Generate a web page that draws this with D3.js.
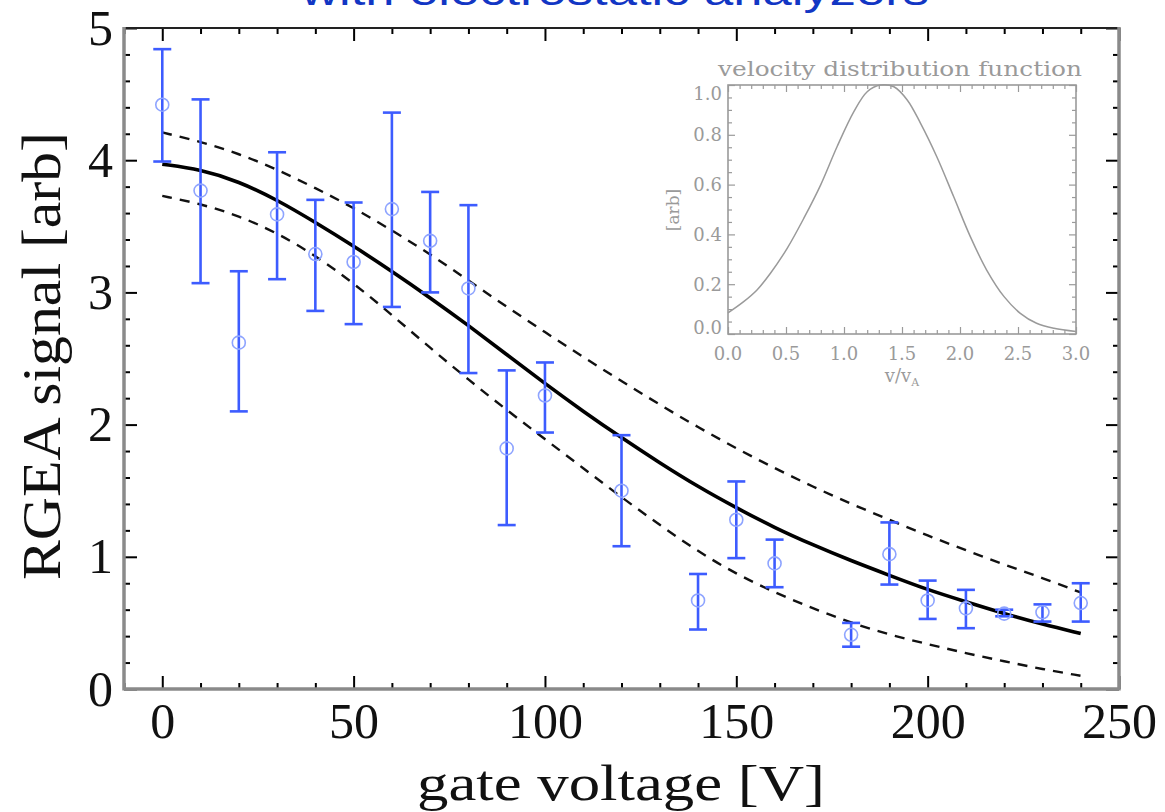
<!DOCTYPE html>
<html>
<head>
<meta charset="utf-8">
<script src="https://cdn.jsdelivr.net/npm/d3@7"></script>
<style>
  html, body { margin: 0; padding: 0; background: #fff; }
  svg { display: block; }
</style>
</head>
<body>
<svg id="chart" width="1165" height="812"></svg>
<script>
// ---------------- data ----------------
const titleText = "with electrostatic analyzers";
const xLabel = "gate voltage [V]";
const yLabel = "RGEA signal [arb]";

const xMajorTicks = [0, 50, 100, 150, 200, 250];
const yMajorTicks = [0, 1, 2, 3, 4, 5];

// measured points
const voltages = [0, 10, 20, 30, 40, 50, 60, 70, 80, 90, 100, 120, 140, 150, 160, 180, 190, 200, 210, 220, 230, 240];
const signal   = [4.42, 3.77, 2.62, 3.59, 3.29, 3.23, 3.63, 3.39, 3.03, 1.82, 2.22, 1.50, 0.67, 1.28, 0.95, 0.41, 1.02, 0.67, 0.61, 0.57, 0.58, 0.65];
const errHigh  = [4.84, 4.46, 3.16, 4.06, 3.70, 3.68, 4.36, 3.76, 3.66, 2.41, 2.47, 1.92, 0.87, 1.57, 1.13, 0.50, 1.26, 0.82, 0.75, 0.60, 0.64, 0.80];
const errLow   = [3.99, 3.07, 2.10, 3.10, 2.86, 2.76, 2.89, 3.00, 2.39, 1.24, 1.94, 1.08, 0.45, 0.99, 0.77, 0.32, 0.79, 0.53, 0.46, 0.55, 0.51, 0.51];

// model fit and its bounds
const fitVoltages = [0, 10, 20, 30, 40, 50, 60, 70, 80, 90, 100, 110, 120, 130, 140, 150, 160, 170, 180, 190, 200, 210, 220, 230, 240];
const fitCurve   = [3.97, 3.93, 3.84, 3.70, 3.53, 3.35, 3.16, 2.96, 2.75, 2.53, 2.31, 2.10, 1.90, 1.71, 1.53, 1.37, 1.22, 1.09, 0.97, 0.86, 0.75, 0.66, 0.57, 0.49, 0.42];
const upperBand  = [4.21, 4.14, 4.05, 3.93, 3.79, 3.64, 3.47, 3.29, 3.09, 2.89, 2.70, 2.51, 2.33, 2.15, 1.98, 1.82, 1.67, 1.53, 1.40, 1.28, 1.16, 1.05, 0.94, 0.84, 0.73];
const lowerBand  = [3.73, 3.67, 3.58, 3.45, 3.28, 3.07, 2.83, 2.58, 2.34, 2.11, 1.89, 1.67, 1.45, 1.24, 1.04, 0.87, 0.73, 0.61, 0.50, 0.41, 0.34, 0.27, 0.21, 0.15, 0.10];

// inset: velocity distribution function
const insetTitle = "velocity distribution function";
const insetYLabel = "[arb]";
const insetXTicks = [0.0, 0.5, 1.0, 1.5, 2.0, 2.5, 3.0];
const insetYTicks = [0.0, 0.2, 0.4, 0.6, 0.8, 1.0];
const vdfV   = [0.00, 0.135, 0.25, 0.366, 0.51, 0.654, 0.798, 0.94, 1.085, 1.20, 1.314, 1.43, 1.545, 1.66, 1.80, 1.945, 2.09, 2.23, 2.38, 2.52, 2.66, 2.81, 3.00];
const vdfVal = [0.085, 0.13, 0.177, 0.244, 0.344, 0.465, 0.598, 0.752, 0.893, 0.973, 1.00, 0.993, 0.94, 0.846, 0.712, 0.552, 0.39, 0.257, 0.15, 0.083, 0.043, 0.023, 0.01];

// ---------------- drawing ----------------
const svg = d3.select("#chart");
const serif = "'Liberation Serif', 'Times New Roman', serif";
const L = 124, R = 1119, T = 28, B = 689;

const x = d3.scaleLinear().domain([-10, 250]).range([L, R]);
const y = d3.scaleLinear().domain([0, 5]).range([B, T]);

// title (cut off by the top edge, as in the original)
svg.append("text")
  .attr("x", 615).attr("y", 5)
  .attr("text-anchor", "middle")
  .attr("font-family", "'Liberation Sans', Arial, sans-serif")
  .attr("font-size", 40)
  .attr("fill", "#1236c4")
  .attr("textLength", 628).attr("lengthAdjust", "spacingAndGlyphs")
  .text(titleText);

// ---- axes ----
const xMinor = d3.range(-10, 251, 10).filter(v => !xMajorTicks.includes(v));
const yMinor = d3.range(0, 5.001, 0.2).map(v => +v.toFixed(1)).filter(v => !yMajorTicks.includes(v));

function styleAxis(g) {
  g.select(".domain").remove();
  g.selectAll(".tick line").attr("stroke", "#000").attr("stroke-width", 2);
}

// bottom
svg.append("g").attr("transform", `translate(0,${B})`)
  .call(d3.axisBottom(x).tickValues(xMajorTicks).tickSize(-13).tickPadding(13).tickFormat(d3.format("d")))
  .call(styleAxis)
  .call(g => g.selectAll("text").attr("font-family", serif).attr("font-size", 50).attr("fill", "#111"));
svg.append("g").attr("transform", `translate(0,${B})`)
  .call(d3.axisBottom(x).tickValues(xMinor).tickSize(-6).tickFormat(""))
  .call(styleAxis);
// top
svg.append("g").attr("transform", `translate(0,${T})`)
  .call(d3.axisTop(x).tickValues(xMajorTicks).tickSize(-13).tickFormat(""))
  .call(styleAxis);
svg.append("g").attr("transform", `translate(0,${T})`)
  .call(d3.axisTop(x).tickValues(xMinor).tickSize(-6).tickFormat(""))
  .call(styleAxis);
// left
svg.append("g").attr("transform", `translate(${L},0)`)
  .call(d3.axisLeft(y).tickValues(yMajorTicks).tickSize(-13).tickPadding(11).tickFormat(d3.format("d")))
  .call(styleAxis)
  .call(g => g.selectAll("text").attr("font-family", serif).attr("font-size", 50).attr("fill", "#111"));
svg.append("g").attr("transform", `translate(${L},0)`)
  .call(d3.axisLeft(y).tickValues(yMinor).tickSize(-6).tickFormat(""))
  .call(styleAxis);
// right
svg.append("g").attr("transform", `translate(${R},0)`)
  .call(d3.axisRight(y).tickValues(yMajorTicks).tickSize(-13).tickFormat(""))
  .call(styleAxis);
svg.append("g").attr("transform", `translate(${R},0)`)
  .call(d3.axisRight(y).tickValues(yMinor).tickSize(-6).tickFormat(""))
  .call(styleAxis);

// frame
const frame = svg.append("g");
frame.append("line").attr("x1", L).attr("x2", R).attr("y1", T).attr("y2", T).attr("stroke", "#222").attr("stroke-width", 2);
frame.append("line").attr("x1", L).attr("x2", L).attr("y1", T - 1).attr("y2", B + 1.5).attr("stroke", "#8a8a8a").attr("stroke-width", 3.5);
frame.append("line").attr("x1", R).attr("x2", R).attr("y1", T - 1).attr("y2", B + 1.5).attr("stroke", "#8a8a8a").attr("stroke-width", 3.5);
frame.append("line").attr("x1", L).attr("x2", R).attr("y1", B).attr("y2", B).attr("stroke", "#8a8a8a").attr("stroke-width", 3.5);

// axis titles
svg.append("text")
  .attr("x", 621).attr("y", 800)
  .attr("text-anchor", "middle")
  .attr("font-family", serif).attr("font-size", 50).attr("fill", "#111")
  .attr("textLength", 408).attr("lengthAdjust", "spacingAndGlyphs")
  .text(xLabel);
svg.append("text")
  .attr("transform", "translate(60,356) rotate(-90)")
  .attr("text-anchor", "middle")
  .attr("font-family", serif).attr("font-size", 54).attr("fill", "#111")
  .attr("textLength", 448).attr("lengthAdjust", "spacingAndGlyphs")
  .text(yLabel);

// ---- fit curves ----
const fitLine = (vals) => d3.line()
  .x((d, i) => x(fitVoltages[i]))
  .y(d => y(d))
  .curve(d3.curveBasis)(vals);

svg.append("path").attr("d", fitLine(upperBand))
  .attr("fill", "none").attr("stroke", "#111").attr("stroke-width", 2.4).attr("stroke-dasharray", "10,8");
svg.append("path").attr("d", fitLine(lowerBand))
  .attr("fill", "none").attr("stroke", "#111").attr("stroke-width", 2.4).attr("stroke-dasharray", "10,8");
svg.append("path").attr("d", fitLine(fitCurve))
  .attr("fill", "none").attr("stroke", "#000").attr("stroke-width", 3.6);

// ---- error bars & points ----
const pts = voltages.map((v, i) => ({ v, s: signal[i], hi: errHigh[i], lo: errLow[i] }));
const eb = svg.append("g").attr("stroke", "#3d5cff").attr("stroke-width", 2.6).attr("fill", "none");
eb.selectAll("line.stem").data(pts).join("line").attr("class", "stem")
  .attr("x1", d => x(d.v)).attr("x2", d => x(d.v))
  .attr("y1", d => y(d.hi)).attr("y2", d => y(d.lo));
eb.selectAll("line.capHi").data(pts).join("line").attr("class", "capHi")
  .attr("x1", d => x(d.v) - 9).attr("x2", d => x(d.v) + 9)
  .attr("y1", d => y(d.hi)).attr("y2", d => y(d.hi));
eb.selectAll("line.capLo").data(pts).join("line").attr("class", "capLo")
  .attr("x1", d => x(d.v) - 9).attr("x2", d => x(d.v) + 9)
  .attr("y1", d => y(d.lo)).attr("y2", d => y(d.lo));
svg.append("g").selectAll("circle").data(pts).join("circle")
  .attr("cx", d => x(d.v)).attr("cy", d => y(d.s)).attr("r", 6.5)
  .attr("fill", "none").attr("stroke", "#8ea4ff").attr("stroke-width", 1.6);

// ---------------- inset ----------------
const iL = 728, iR = 1076, iT = 85, iB = 334;
const xi = d3.scaleLinear().domain([0, 3]).range([iL, iR]);
const yi = d3.scaleLinear().domain([0, 1]).range([iB, iT]);
const grey = "#9a9a9a";
const inset = svg.append("g");
const iSerif = "'DejaVu Serif', 'Liberation Serif', serif";

inset.append("rect").attr("x", iL - 2).attr("y", iT - 2).attr("width", iR - iL + 4).attr("height", iB - iT + 4).attr("fill", "#fff");

const ixMinor = d3.range(0, 3.001, 0.1).map(v => +v.toFixed(2)).filter(v => !insetXTicks.includes(v));
const iyMinor = d3.range(0, 1.001, 0.05).map(v => +v.toFixed(2)).filter(v => !insetYTicks.includes(v));
function styleInset(g) {
  g.select(".domain").remove();
  g.selectAll(".tick line").attr("stroke", grey).attr("stroke-width", 1.2);
}
inset.append("g").attr("transform", `translate(0,${iB})`).call(d3.axisBottom(xi).tickValues(insetXTicks).tickSize(-7).tickFormat("")).call(styleInset);
inset.append("g").attr("transform", `translate(0,${iB})`).call(d3.axisBottom(xi).tickValues(ixMinor).tickSize(-4).tickFormat("")).call(styleInset);
inset.append("g").attr("transform", `translate(0,${iT})`).call(d3.axisTop(xi).tickValues(insetXTicks).tickSize(-7).tickFormat("")).call(styleInset);
inset.append("g").attr("transform", `translate(0,${iT})`).call(d3.axisTop(xi).tickValues(ixMinor).tickSize(-4).tickFormat("")).call(styleInset);
inset.append("g").attr("transform", `translate(${iL},0)`).call(d3.axisLeft(yi).tickValues(insetYTicks).tickSize(-7).tickFormat("")).call(styleInset);
inset.append("g").attr("transform", `translate(${iL},0)`).call(d3.axisLeft(yi).tickValues(iyMinor).tickSize(-4).tickFormat("")).call(styleInset);
inset.append("g").attr("transform", `translate(${iR},0)`).call(d3.axisRight(yi).tickValues(insetYTicks).tickSize(-7).tickFormat("")).call(styleInset);
inset.append("g").attr("transform", `translate(${iR},0)`).call(d3.axisRight(yi).tickValues(iyMinor).tickSize(-4).tickFormat("")).call(styleInset);

inset.append("rect").attr("x", iL).attr("y", iT).attr("width", iR - iL).attr("height", iB - iT)
  .attr("fill", "none").attr("stroke", grey).attr("stroke-width", 1.6);

// inset tick labels
inset.append("g").selectAll("text").data(insetXTicks).join("text")
  .attr("x", d => xi(d)).attr("y", 360)
  .attr("text-anchor", "middle")
  .attr("font-family", iSerif).attr("font-size", 18).attr("fill", grey)
  .text(d => d3.format(".1f")(d));
inset.append("g").selectAll("text").data(insetYTicks).join("text")
  .attr("x", iL - 6).attr("y", d => Math.max(iT + 8, Math.min(iB - 7, yi(d))) + 6.5)
  .attr("text-anchor", "end")
  .attr("font-family", iSerif).attr("font-size", 18).attr("fill", grey)
  .text(d => d3.format(".1f")(d));

// inset titles
inset.append("text").attr("x", 900).attr("y", 76)
  .attr("text-anchor", "middle")
  .attr("font-family", iSerif).attr("font-size", 20).attr("fill", grey)
  .attr("textLength", 364).attr("lengthAdjust", "spacingAndGlyphs")
  .text(insetTitle);
inset.append("text").attr("transform", "translate(679,210) rotate(-90)")
  .attr("text-anchor", "middle")
  .attr("font-family", iSerif).attr("font-size", 17).attr("fill", grey)
  .text(insetYLabel);
const xl = inset.append("text").attr("x", 902).attr("y", 382)
  .attr("text-anchor", "middle")
  .attr("font-family", iSerif).attr("font-size", 18).attr("fill", grey);
xl.append("tspan").text("v/v");
xl.append("tspan").attr("font-size", 11).attr("dy", 4).text("A");

// inset curve
inset.append("path")
  .attr("d", d3.line().x((d, i) => xi(vdfV[i])).y(d => yi(d)).curve(d3.curveCatmullRom.alpha(0.5))(vdfVal))
  .attr("fill", "none").attr("stroke", grey).attr("stroke-width", 1.5);
</script>
</body>
</html>
